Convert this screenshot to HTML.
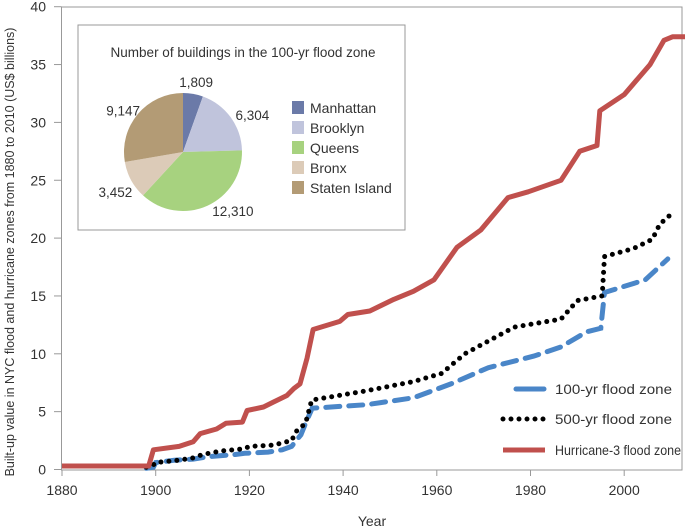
<!DOCTYPE html>
<html><head><meta charset="utf-8"><style>
body{margin:0;background:#fff;}
svg{display:block;font-family:"Liberation Sans",sans-serif;}
</style></head><body>
<svg id="chart" width="685" height="532" viewBox="0 0 685 532">
<rect x="61.5" y="7" width="620.5" height="463" fill="#fff" stroke="#999" stroke-width="1"/>
<g id="axes"></g>
<g id="series"></g>
<text x="20" y="258" transform="rotate(-90 14 258)" font-size="12.5" fill="#333" text-anchor="middle">Built-up value in NYC flood and hurricane zones from 1880 to 2010 (US$ billions)</text>
<text x="372" y="526" font-size="14" fill="#333" text-anchor="middle">Year</text>
<g>
<g><line x1="516" y1="389" x2="544" y2="389" stroke="#4a86c8" stroke-width="5" stroke-linecap="round"/><text x="555" y="394" font-size="14" fill="#333" textLength="117" lengthAdjust="spacingAndGlyphs">100-yr flood zone</text></g>
<g><line x1="503" y1="419" x2="545" y2="419" stroke="#000" stroke-width="5" stroke-linecap="round" stroke-dasharray="0 8"/><text x="555" y="424" font-size="14" fill="#333" textLength="117" lengthAdjust="spacingAndGlyphs">500-yr flood zone</text></g>
<g><line x1="503" y1="450" x2="545" y2="450" stroke="#c0504d" stroke-width="5"/><text x="555" y="455" font-size="14" fill="#333" textLength="126" lengthAdjust="spacingAndGlyphs">Hurricane-3 flood zone</text></g>
</g>
<g>
<rect x="78" y="25" width="327" height="205" fill="#fff" stroke="#999"/>
<text x="243" y="57" font-size="13.5" fill="#333" text-anchor="middle">Number of buildings in the 100-yr flood zone</text>
<g id="pie"></g>
<g id="pielegend"></g>
</g>
</svg>
<script>
const years = [1880,1898.5,1899.5,1905,1908,1909.5,1913,1915,1918.5,1919.5,1923,1925,1928,1929.5,1930.8,1932.3,1933.6,1939.3,1941,1945.7,1950.8,1955,1959.4,1964.3,1969.4,1975.2,1979.5,1986.5,1990.5,1994.2,1994.8,2000,2005.5,2008.5,2010.3,2013];
const hurricane = [0.3,0.3,1.7,2.0,2.4,3.1,3.5,4.0,4.1,5.1,5.4,5.8,6.4,7.0,7.4,9.6,12.1,12.8,13.4,13.7,14.7,15.4,16.4,19.2,20.7,23.5,24.0,25.0,27.5,28.0,31.0,32.4,35.0,37.1,37.4,37.4];
const years500 = [1898,1899.5,1900,1905,1908,1910,1914,1919,1920,1925,1929,1930,1932,1933.3,1945,1955,1961,1966,1971,1976.5,1986.5,1990,1995.3,1995.8,2002,2006,2007.6,2010.4];
const zone500 = [0.2,0.4,0.6,0.8,1.0,1.3,1.6,1.8,2.0,2.1,2.5,3.3,4.0,6.0,6.8,7.6,8.3,10.0,11.1,12.3,13.0,14.6,15.0,18.4,19.1,19.9,21.2,22.2];
const years100 = [1898,1899.5,1900,1904,1908,1911,1917,1919,1924,1927,1929,1931,1932,1933.4,1945,1955,1963,1971,1980.7,1986.5,1992,1995,1995.8,2004.5,2009.3];
const zone100 = [0.1,0.2,0.6,0.8,0.9,1.1,1.3,1.4,1.5,1.7,2.0,3.0,4.0,5.3,5.6,6.2,7.4,8.8,9.8,10.6,11.9,12.2,15.3,16.4,18.2];
const xTicks = [1880,1900,1920,1940,1960,1980,2000];
const yTicks = [0,5,10,15,20,25,30,35,40];
const boroughs = ["Manhattan","Brooklyn","Queens","Bronx","Staten Island"];
const buildings = [1809,6304,12310,3452,9147];
const pieLabels = ["1,809","6,304","12,310","3,452","9,147"];
const pieColors = ["#6b7aa8","#c0c4dc","#a7d27f","#dccbb8","#b39b75"];

const NS="http://www.w3.org/2000/svg";
const X=y=>62+(y-1880)*4.685;
const Y=v=>469.5-v*11.57;
function mk(tag,attrs,parent){const e=document.createElementNS(NS,tag);for(const k in attrs)e.setAttribute(k,attrs[k]);parent.appendChild(e);return e;}
const axes=document.getElementById('axes');
xTicks.forEach(t=>{
  const l=mk('line',{x1:X(t),x2:X(t),y1:470,y2:476,stroke:'#999'},axes);
  
  
  const tx=mk('text',{x:X(t),y:495,'font-size':14,fill:'#333','text-anchor':'middle'},axes);
  tx.textContent=t;
  
  
});
yTicks.forEach(t=>{
  const l=mk('line',{x1:54,x2:61.5,y1:Y(t),y2:Y(t),stroke:'#999'},axes);
  
  
  const tx=mk('text',{x:46,y:Y(t)+5,'font-size':14,fill:'#333','text-anchor':'end'},axes);
  tx.textContent=t;
  
  
});
const ser=document.getElementById('series');
function pts(xs,vs){return xs.map((x,i)=>X(x).toFixed(1)+','+Y(vs[i]).toFixed(1)).join(' ');}
const p100=mk('polyline',{points:pts(years100,zone100),fill:'none',stroke:'#4a86c8','stroke-width':5,'stroke-dasharray':'14 9','stroke-linecap':'round'},ser);


const p500=mk('polyline',{points:pts(years500,zone500),fill:'none',stroke:'#000','stroke-width':5,'stroke-dasharray':'0 8','stroke-linecap':'round'},ser);


const ph=mk('polyline',{points:pts(years,hurricane),fill:'none',stroke:'#c0504d','stroke-width':5,'stroke-linejoin':'round'},ser);


// pie
const pie=document.getElementById('pie');
const cx=183,cy=152,r=59;
const total=buildings.reduce((a,b)=>a+b,0);
let a0=-Math.PI/2;
const labelOff=[[0,6],[7,8],[18,-11],[0,3],[-1,8]];
buildings.forEach((v,i)=>{
  const a1=a0+v/total*2*Math.PI;
  const large=(a1-a0)>Math.PI?1:0;
  const d=`M${cx},${cy} L${cx+r*Math.cos(a0)},${cy+r*Math.sin(a0)} A${r},${r} 0 ${large} 1 ${cx+r*Math.cos(a1)},${cy+r*Math.sin(a1)} Z`;
  const s=mk('path',{d:d,fill:pieColors[i]},pie);
  
  
  const am=(a0+a1)/2;
  const lr=r+18;
  const t=mk('text',{x:cx+lr*Math.cos(am)+labelOff[i][0],y:cy+lr*Math.sin(am)+5+labelOff[i][1],'font-size':13.5,fill:'#333','text-anchor':'middle'},pie);
  t.textContent=pieLabels[i];
  
  
  a0=a1;
});
const pl=document.getElementById('pielegend');
boroughs.forEach((b,i)=>{
  const yy=101+i*20;
  const sq=mk('rect',{x:292,y:yy,width:12,height:13,fill:pieColors[i]},pl);
  
  
  const t=mk('text',{x:310,y:yy+12,'font-size':14,fill:'#333'},pl);
  t.textContent=b;
  
  
});
</script>
</body></html>
